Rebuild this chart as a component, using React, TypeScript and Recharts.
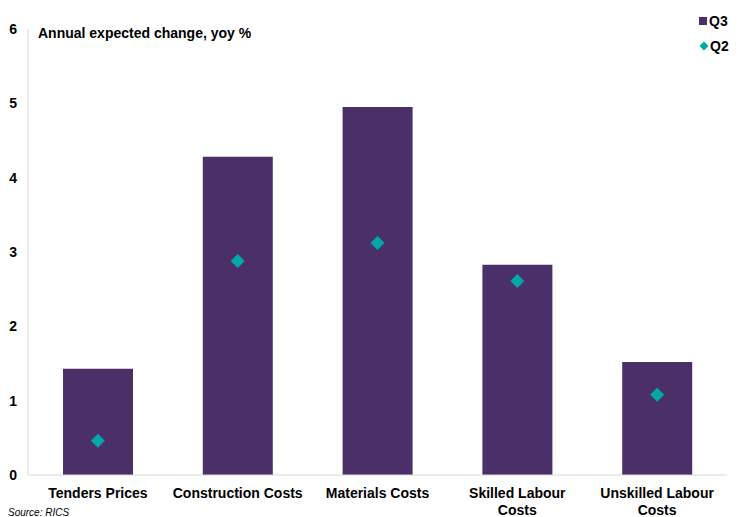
import React from "react";
import { ComposedChart, Bar, Scatter, XAxis, YAxis } from "recharts";

const categories = [
  "Tenders Prices",
  "Construction Costs",
  "Materials Costs",
  "Skilled Labour\nCosts",
  "Unskilled Labour\nCosts",
];
const q3Values = [1.43, 4.28, 4.95, 2.83, 1.52];
const q2Values = [0.46, 2.88, 3.12, 2.61, 1.08];
const yTicks = [0, 1, 2, 3, 4, 5, 6];

const data = categories.map((name, i) => ({ name, q3: q3Values[i], q2: q2Values[i] }));

const FONT = "'Liberation Sans', Arial, sans-serif";
const BAR = "#4B2F69";
const TEAL = "#00A9A6";

const XTick = (props: any) => {
  const { x, y, payload } = props;
  const lines = String(payload.value).split("\n");
  return (
    <g transform={`translate(${x},${y})`}>
      {lines.map((l: string, i: number) => (
        <text key={i} x={0} y={i * 17} dy={15} textAnchor="middle" fill="#000" fontSize={14} fontWeight="bold" fontFamily={FONT}>
          {l}
        </text>
      ))}
    </g>
  );
};

const Diamond = (props: any) => {
  const { cx, cy } = props;
  const r = 7;
  return <polygon points={`${cx},${cy - r} ${cx + r},${cy} ${cx},${cy + r} ${cx - r},${cy}`} fill={TEAL} />;
};

const LegendBox = () => (
  <div style={{ position: "absolute", left: 699, top: 13, fontFamily: FONT, fontWeight: "bold", fontSize: 14, color: "#000" }}>
    <div style={{ display: "flex", alignItems: "center", height: 16 }}>
      <div style={{ width: 8, height: 8, background: BAR, marginRight: 2 }} />
      <span>Q3</span>
    </div>
    <div style={{ display: "flex", alignItems: "center", height: 16, marginTop: 9 }}>
      <svg width={10} height={10} style={{ marginRight: 1 }}>
        <polygon points="5,0.5 9.5,5 5,9.5 0.5,5" fill={TEAL} />
      </svg>
      <span>Q2</span>
    </div>
  </div>
);

export default function App() {
  return (
    <div style={{ position: "absolute", left: 0, top: 0, width: 740, height: 517, background: "#fff", overflow: "hidden" }}>
      <ComposedChart width={740} height={517} data={data} margin={{ top: 29, right: 13, bottom: 0, left: 0 }}>
        <XAxis
          dataKey="name"
          height={42}
          axisLine={{ stroke: "#d9d9d9" }}
          tickLine={false}
          tick={<XTick />}
          interval={0}
        />
        <YAxis
          width={28}
          domain={[0, 6]}
          ticks={yTicks}
          axisLine={{ stroke: "#d9d9d9" }}
          tickLine={false}
          tickSize={8}
          tickMargin={3}
          tick={{ fill: "#000", fontSize: 14, fontWeight: "bold", fontFamily: FONT }}
        />
        <Bar dataKey="q3" name="Q3" fill={BAR} barSize={70} isAnimationActive={false} />
        <Scatter dataKey="q2" name="Q2" fill={TEAL} shape={<Diamond />} isAnimationActive={false} />
      </ComposedChart>
      <LegendBox />
      <div style={{ position: "absolute", left: 38, top: 25, fontFamily: FONT, fontWeight: "bold", fontSize: 14, lineHeight: "16px", color: "#000" }}>
        Annual expected change, yoy %
      </div>
      <div style={{ position: "absolute", left: 8, top: 507, fontFamily: FONT, fontStyle: "italic", fontSize: 10, lineHeight: "12px", color: "#000" }}>
        Source: RICS
      </div>
    </div>
  );
}
